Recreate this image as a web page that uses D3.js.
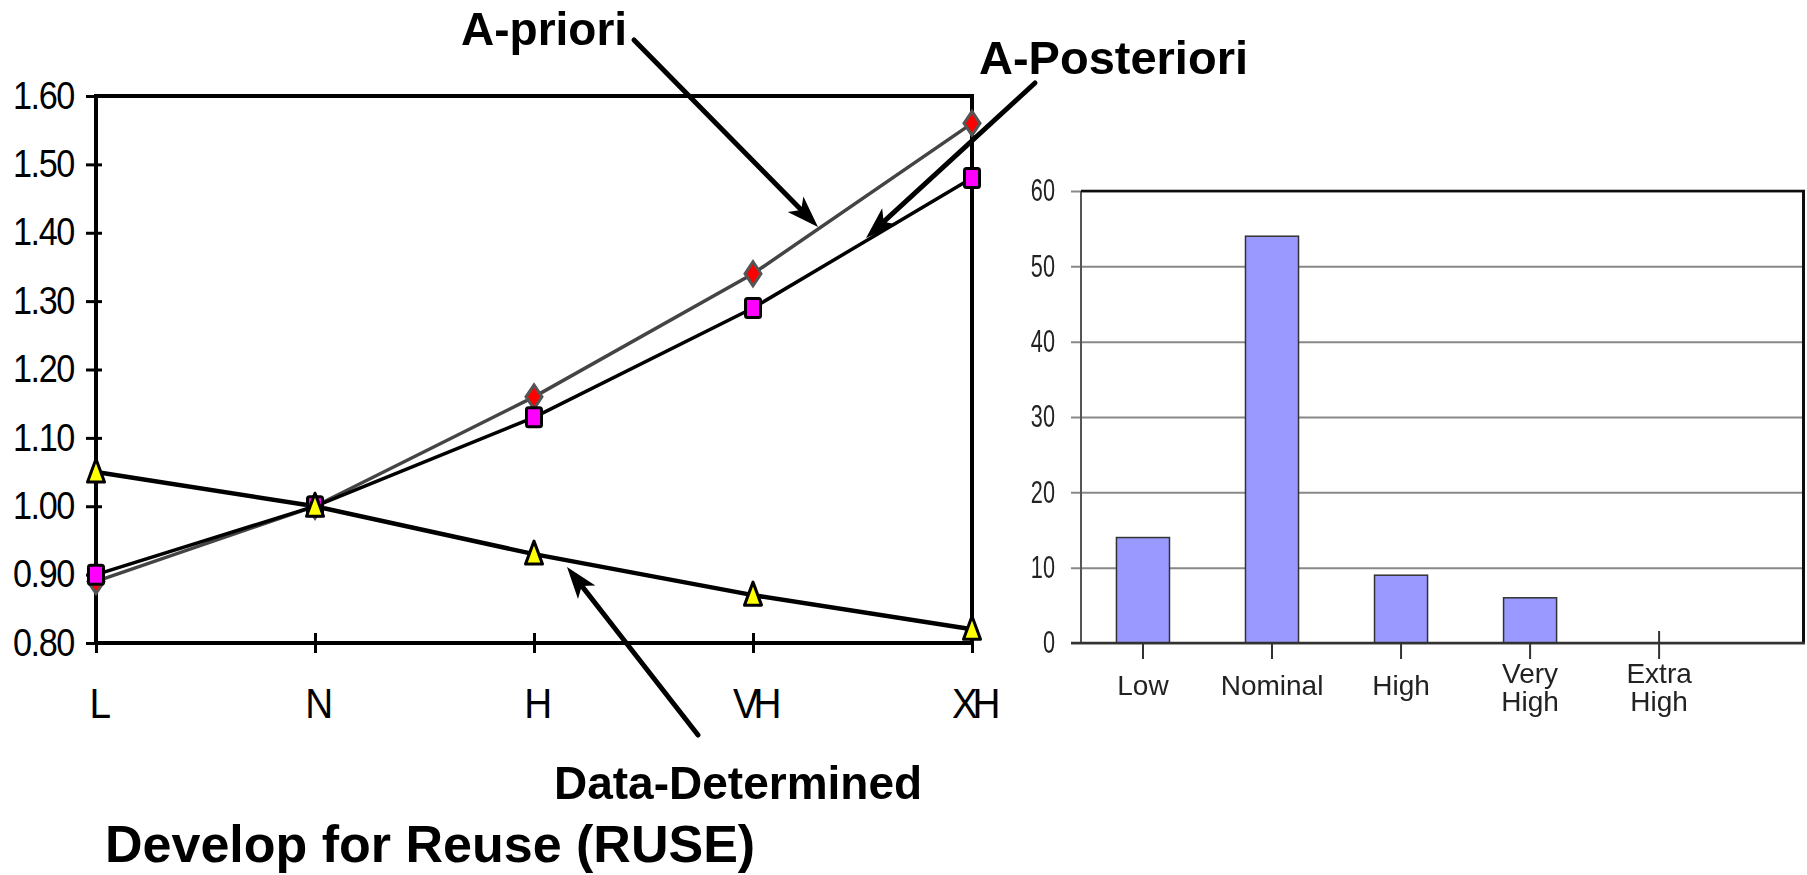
<!DOCTYPE html>
<html>
<head>
<meta charset="utf-8">
<script src="https://cdn.jsdelivr.net/npm/d3@7"></script>
<style>
body { margin: 0; background: #fff; }
svg { display: block; font-family: "Liberation Sans", Arial, sans-serif; }
</style>
</head>
<body>
<svg id="chart" width="1807" height="875"></svg>
<script>
// effort multipliers for RUSE (left chart)
var levels = ["L", "N", "H", "VH", "XH"];
var aPriori = [0.89, 1.00, 1.16, 1.34, 1.56];
var aPosteriori = [0.90, 1.00, 1.13, 1.29, 1.48];
var dataDetermined = [1.05, 1.00, 0.93, 0.87, 0.82];
var multTicks = [0.80, 0.90, 1.00, 1.10, 1.20, 1.30, 1.40, 1.50, 1.60];

// number of projects per rating (right chart)
var ratings = ["Low", "Nominal", "High", "Very High", "Extra High"];
var projectCounts = [14, 54, 9, 6, 0];
var countTicks = [0, 10, 20, 30, 40, 50, 60];

var svg = d3.select("#chart");
svg.append("rect").attr("width", 1807).attr("height", 875).attr("fill", "#fff");

var defs = svg.append("defs");
defs.append("marker")
    .attr("id", "head")
    .attr("markerUnits", "userSpaceOnUse")
    .attr("viewBox", "-34 -14 36 28")
    .attr("markerWidth", 36)
    .attr("markerHeight", 28)
    .attr("refX", -16)
    .attr("refY", 0)
    .attr("orient", "auto")
    .append("path")
    .attr("d", "M0,0L-32,-11L-24,0L-32,11Z")
    .attr("fill", "#000");
defs.append("filter").attr("id", "soft")
    .append("feGaussianBlur").attr("stdDeviation", 0.5);

// ---------- left chart ----------
var x = d3.scalePoint().domain(levels).range([96, 972]);
var y = d3.scaleLinear().domain([0.8, 1.6]).range([643, 96]);

var left = svg.append("g");

var yAxis = left.append("g")
    .attr("transform", "translate(" + x.range()[0] + ",0)")
    .attr("font-size", null).attr("font-family", null)
    .call(d3.axisLeft(y).tickValues(multTicks).tickFormat(d3.format(".2f")).tickSize(10));
yAxis.select(".domain").remove();
yAxis.selectAll(".tick line").attr("x1", 6).attr("stroke", "#000").attr("stroke-width", 3);
yAxis.selectAll(".tick text")
    .attr("x", -22 / 0.9)
    .attr("transform", "scale(0.9,1)")
    .attr("font-size", 38)
    .attr("letter-spacing", -1.5)
    .attr("fill", "#000");

var xAxis = left.append("g")
    .attr("transform", "translate(0," + y.range()[0] + ")")
    .attr("font-size", null).attr("font-family", null)
    .call(d3.axisBottom(x).tickSize(10));
xAxis.select(".domain").remove();
xAxis.selectAll(".tick line").attr("y1", -10).attr("stroke", "#000").attr("stroke-width", 3);
xAxis.selectAll(".tick text")
    .attr("y", 75).attr("dy", 0)
    .attr("x", 1 / 0.9)
    .attr("transform", "scale(0.9,1)")
    .attr("font-size", 43)
    .attr("letter-spacing", -6)
    .attr("fill", "#000");

// plot frame
left.append("rect")
    .attr("x", x.range()[0]).attr("y", y.range()[1])
    .attr("width", x.range()[1] - x.range()[0])
    .attr("height", y.range()[0] - y.range()[1])
    .attr("fill", "none").attr("stroke", "#000").attr("stroke-width", 4);

var line = d3.line()
    .x(function (d, i) { return x(levels[i]); })
    .y(function (d) { return y(d); });

left.append("path").datum(aPriori).attr("d", line)
    .attr("fill", "none").attr("stroke", "#444").attr("stroke-width", 3.5);
left.append("path").datum(aPosteriori).attr("d", line)
    .attr("fill", "none").attr("stroke", "#000").attr("stroke-width", 3.5);
left.append("path").datum(dataDetermined).attr("d", line)
    .attr("fill", "none").attr("stroke", "#000").attr("stroke-width", 4.5);

left.selectAll("path.diamond").data(aPriori).enter().append("path")
    .attr("class", "diamond")
    .attr("transform", function (d, i) { return "translate(" + x(levels[i]) + "," + y(d) + ")"; })
    .attr("d", "M0,-12L8,0L0,12L-8,0Z")
    .attr("fill", "#ff0000").attr("stroke", "#555").attr("stroke-width", 3);

left.selectAll("rect.square").data(aPosteriori).enter().append("rect")
    .attr("class", "square")
    .attr("x", function (d, i) { return x(levels[i]) - 7.5; })
    .attr("y", function (d) { return y(d) - 9.5; })
    .attr("width", 15).attr("height", 19).attr("rx", 2)
    .attr("fill", "#ff00ff").attr("stroke", "#000").attr("stroke-width", 3);

left.selectAll("path.tri").data(dataDetermined).enter().append("path")
    .attr("class", "tri")
    .attr("transform", function (d, i) { return "translate(" + x(levels[i]) + "," + y(d) + ")"; })
    .attr("d", "M0,-13L8.5,10L-8.5,10Z")
    .attr("fill", "#ffff00").attr("stroke", "#000").attr("stroke-width", 3)
    .attr("stroke-linejoin", "round");

// ---------- right chart ----------
var xb = d3.scaleBand().domain(ratings).range([1081, 1805])
    .paddingInner(0.589).paddingOuter(0.6).align(0.229);
var yb = d3.scaleLinear().domain([0, 60]).range([643, 191]);

var right = svg.append("g").attr("filter", "url(#soft)");

var grid = right.append("g")
    .attr("transform", "translate(" + xb.range()[0] + ",0)")
    .attr("font-size", null).attr("font-family", null)
    .call(d3.axisLeft(yb).tickValues(countTicks).tickSize(-(xb.range()[1] - xb.range()[0])));
grid.select(".domain").remove();
grid.selectAll(".tick line").attr("x1", -10).attr("stroke", "#888").attr("stroke-width", 2);
grid.selectAll(".tick text")
    .attr("x", -26 / 0.7)
    .attr("transform", "scale(0.7,1)")
    .attr("font-size", 31)
    .attr("fill", "#222");

right.selectAll("rect.bar").data(projectCounts).enter().append("rect")
    .attr("class", "bar")
    .attr("x", function (d, i) { return xb(ratings[i]); })
    .attr("y", function (d) { return yb(d); })
    .attr("width", xb.bandwidth())
    .attr("height", function (d) { return yb(0) - yb(d); })
    .attr("fill", "#9999ff").attr("stroke", "#333").attr("stroke-width", 1.5);

// frame
var bx0 = xb.range()[0], bx1 = xb.range()[1];
right.append("line").attr("x1", bx0).attr("x2", bx0).attr("y1", yb(60)).attr("y2", yb(0))
    .attr("stroke", "#555").attr("stroke-width", 2);
right.append("line").attr("x1", bx0).attr("x2", bx1).attr("y1", yb(60)).attr("y2", yb(60))
    .attr("stroke", "#111").attr("stroke-width", 2.5);
right.append("line").attr("x1", bx1 - 1.5).attr("x2", bx1 - 1.5).attr("y1", yb(60)).attr("y2", yb(0))
    .attr("stroke", "#111").attr("stroke-width", 3);
right.append("line").attr("x1", bx0 - 10).attr("x2", bx1).attr("y1", yb(0)).attr("y2", yb(0))
    .attr("stroke", "#333").attr("stroke-width", 2.5);

var cats = right.selectAll("g.cat").data(ratings).enter().append("g")
    .attr("class", "cat")
    .attr("transform", function (d) { return "translate(" + (xb(d) + xb.bandwidth() / 2) + ",0)"; });
cats.append("line")
    .attr("y1", function (d, i) { return i === ratings.length - 1 ? yb(0) - 12 : yb(0); })
    .attr("y2", yb(0) + 16)
    .attr("stroke", "#333").attr("stroke-width", 2);
cats.each(function (d) {
    var words = d.split(" ");
    var t = d3.select(this).append("text")
        .attr("text-anchor", "middle")
        .attr("font-size", 28)
        .attr("fill", "#222");
    words.forEach(function (w, k) {
        t.append("tspan").attr("x", 0)
            .attr("y", words.length === 1 ? 695 : 683 + k * 28)
            .text(w);
    });
});

// ---------- annotations ----------
var notes = svg.append("g").attr("font-weight", "bold").attr("fill", "#000");
notes.append("text").attr("x", 461).attr("y", 45).attr("font-size", 46).text("A-priori");
notes.append("text").attr("x", 979).attr("y", 74).attr("font-size", 47).text("A-Posteriori");
notes.append("text").attr("x", 554).attr("y", 799).attr("font-size", 46).text("Data-Determined");
notes.append("text").attr("x", 105).attr("y", 862).attr("font-size", 52).text("Develop for Reuse (RUSE)");

var arrows = [
    [634, 40, 818, 227],
    [1035, 83, 866, 238],
    [698, 735, 567, 567]
];
arrows.forEach(function (a) {
    var dx = a[2] - a[0], dy = a[3] - a[1];
    var len = Math.sqrt(dx * dx + dy * dy);
    var k = (len - 16) / len;
    svg.append("line")
        .attr("x1", a[0]).attr("y1", a[1])
        .attr("x2", a[0] + dx * k).attr("y2", a[1] + dy * k)
        .attr("stroke", "#000").attr("stroke-width", 5)
        .attr("stroke-linecap", "round")
        .attr("marker-end", "url(#head)");
});
</script>
</body>
</html>
